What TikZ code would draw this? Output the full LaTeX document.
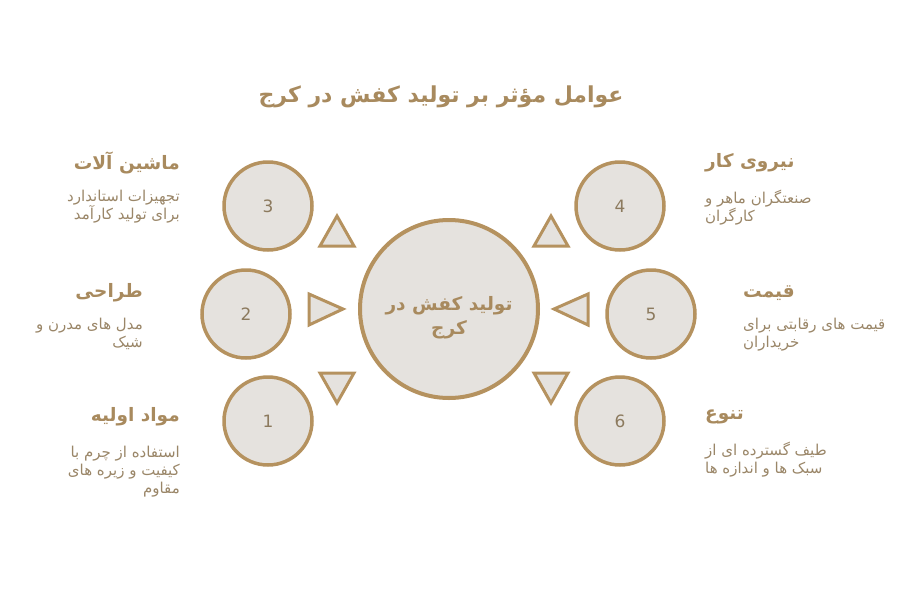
\documentclass[tikz,border=0pt]{standalone}
\usepackage{fontspec}
\TeXXeTstate=1
\newfontfamily\arabicfont[Script=Arabic]{DejaVu Sans}
\newfontfamily\numfont{DejaVu Sans}
\newcommand{\fatext}[1]{{\arabicfont\beginR #1\endR}}
\definecolor{strokec}{HTML}{B5925F}
\definecolor{fillc}{HTML}{E5E2DE}
\definecolor{titlec}{HTML}{A88A5E}
\definecolor{descc}{HTML}{9A8668}
\definecolor{numc}{HTML}{8C7A5E}
\begin{document}
\begin{tikzpicture}[x=1pt,y=-1pt,
  bigc/.style={circle,draw=strokec,fill=fillc,line width=4pt,minimum size=178pt,inner sep=0pt},
  smallc/.style={circle,draw=strokec,fill=fillc,line width=3.5pt,minimum size=88pt,inner sep=0pt,font=\numfont\fontsize{17}{20}\selectfont,text=numc},
  tri/.style={draw=strokec,fill=fillc,line width=3pt},
  ttl/.style={inner sep=0pt,text=titlec,font=\arabicfont\bfseries\fontsize{18.5}{22}\selectfont},
  dsc/.style={inner sep=0pt,text=descc,font=\arabicfont\fontsize{15}{18}\selectfont},
]
\useasboundingbox (0,0) rectangle (900,600);
% title
\node[ttl,font=\arabicfont\bfseries\fontsize{22}{26}\selectfont] (title) at (441,97) {\fatext{عوامل مؤثر بر تولید کفش در کرج}};
% center
\node[bigc] (center) at (449,309) {};
\node[text=titlec,font=\arabicfont\bfseries\fontsize{18.5}{24}\selectfont,align=center] (centertext) at (449,318) {\fatext{تولید کفش در}\\\fatext{کرج}};
% small circles
\node[smallc] (c3) at (268,206) {3};
\node[smallc] (c2) at (246,314) {2};
\node[smallc] (c1) at (268,421) {1};
\node[smallc] (c4) at (620,206) {4};
\node[smallc] (c5) at (651,314) {5};
\node[smallc] (c6) at (620,421) {6};
% triangles
\draw[tri] (337,216) -- (354,246) -- (320,246) -- cycle;
\draw[tri] (309,294) -- (343,309) -- (309,325) -- cycle;
\draw[tri] (320,373) -- (354,373) -- (337,403) -- cycle;
\draw[tri] (551,216) -- (568,246) -- (534,246) -- cycle;
\draw[tri] (588,294) -- (554,309) -- (588,325) -- cycle;
\draw[tri] (534,373) -- (568,373) -- (551,403) -- cycle;
% left texts
\node[ttl,anchor=east] (t3) at (180,163) {\fatext{ماشین آلات}};
\node[dsc,anchor=north east,align=right] (d3) at (180,190) {\fatext{تجهیزات استاندارد}\\\fatext{برای تولید کارآمد}};
\node[ttl,anchor=east] (t2) at (143,293) {\fatext{طراحی}};
\node[dsc,anchor=north east,align=right] (d2) at (143,318) {\fatext{مدل های مدرن و}\\\fatext{شیک}};
\node[ttl,anchor=east] (t1) at (180,417) {\fatext{مواد اولیه}};
\node[dsc,anchor=north east,align=right] (d1) at (180,446) {\fatext{استفاده از چرم با}\\\fatext{کیفیت و زیره های}\\\fatext{مقاوم}};
% right texts
\node[ttl,anchor=west] (t4) at (705,163) {\fatext{نیروی کار}};
\node[dsc,anchor=north west,align=left] (d4) at (705,190) {\fatext{صنعتگران ماهر و}\\\fatext{کارگران}};
\node[ttl,anchor=west] (t5) at (743,293) {\fatext{قیمت}};
\node[dsc,anchor=north west,align=left] (d5) at (743,318) {\fatext{قیمت های رقابتی برای}\\\fatext{خریداران}};
\node[ttl,anchor=west] (t6) at (705,417) {\fatext{تنوع}};
\node[dsc,anchor=north west,align=left] (d6) at (705,442) {\fatext{طیف گسترده ای از}\\\fatext{سبک ها و اندازه ها}};
\end{tikzpicture}
\end{document}
